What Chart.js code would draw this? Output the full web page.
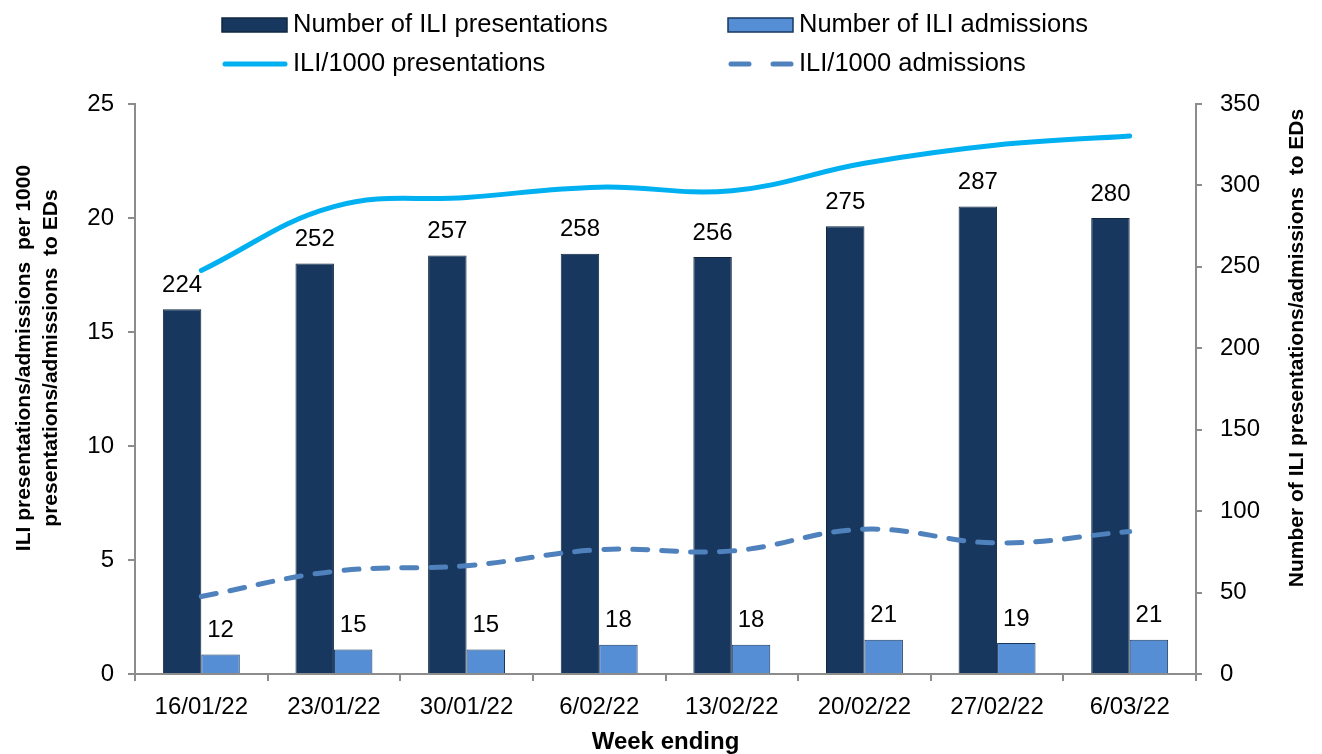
<!DOCTYPE html>
<html>
<head>
<meta charset="utf-8">
<script src="https://cdn.jsdelivr.net/npm/chart.js@4"></script>
<style>
  html, body { margin: 0; padding: 0; background: #fff; }
  #wrap { width: 1322px; height: 754px; }
</style>
</head>
<body>
<div id="wrap"><canvas id="chart" width="1322" height="754"></canvas></div>
<script>
const weeks = ["16/01/22", "23/01/22", "30/01/22", "6/02/22", "13/02/22", "20/02/22", "27/02/22", "6/03/22"];
const iliPresentations = [224, 252, 257, 258, 256, 275, 287, 280];
const iliAdmissions = [12, 15, 15, 18, 18, 21, 19, 21];
const ratePresentations = [17.7, 20.5, 20.9, 21.35, 21.2, 22.4, 23.2, 23.6];
const rateAdmissions = [3.4, 4.5, 4.75, 5.45, 5.4, 6.35, 5.75, 6.25];

const FONT = '"Liberation Sans", Arial, sans-serif';
const AXIS_GREY = "#8c8c8c";

// bar value labels above each bar
const barLabels = {
  id: "barLabels",
  afterDatasetsDraw(chart) {
    const ctx = chart.ctx;
    ctx.save();
    ctx.font = "24px " + FONT;
    ctx.fillStyle = "#000";
    ctx.textAlign = "center";
    ctx.textBaseline = "middle";
    chart.data.datasets.forEach((ds, i) => {
      if (ds.type !== "bar") return;
      chart.getDatasetMeta(i).data.forEach((bar, j) => {
        ctx.fillText(ds.data[j], bar.x, bar.y - 24);
      });
    });
    ctx.restore();
  },
};

// two column legend at the top, like the Excel one
const gridLegend = {
  id: "gridLegend",
  afterDraw(chart) {
    const ctx = chart.ctx;
    const cols = [222, 728];
    const rows = [25, 64];
    ctx.save();
    ctx.font = "25.5px " + FONT;
    ctx.textBaseline = "middle";
    ctx.textAlign = "left";
    chart.data.datasets.forEach((ds, i) => {
      const x = cols[i % 2];
      const y = rows[Math.floor(i / 2)];
      if (ds.type === "bar") {
        ctx.fillStyle = ds.backgroundColor;
        ctx.fillRect(x, y - 7, 65, 14);
        ctx.strokeStyle = ds.borderColor;
        ctx.lineWidth = 1.5;
        ctx.strokeRect(x, y - 7, 65, 14);
      } else {
        ctx.strokeStyle = ds.borderColor;
        ctx.lineWidth = ds.borderWidth;
        ctx.lineCap = "round";
        ctx.setLineDash(ds.borderDash ? [18, 24] : []);
        ctx.beginPath();
        ctx.moveTo(x + 3, y);
        ctx.lineTo(x + 63, y);
        ctx.stroke();
        ctx.setLineDash([]);
      }
      ctx.fillStyle = "#000";
      ctx.fillText(ds.label, x + 71, y);
    });
    ctx.restore();
  },
};

// rotated axis titles, both reading bottom to top
const axisTitles = {
  id: "axisTitles",
  afterDraw(chart) {
    const ctx = chart.ctx;
    ctx.save();
    ctx.font = "bold 21px " + FONT;
    ctx.fillStyle = "#000";
    ctx.textAlign = "center";
    ctx.textBaseline = "middle";
    const draw = (text, x, y) => {
      ctx.save();
      ctx.translate(x, y);
      ctx.rotate(-Math.PI / 2);
      ctx.fillText(text, 0, 0);
      ctx.restore();
    };
    draw("ILI presentations/admissions  per 1000", 24, 358);
    draw("presentations/admissions  to EDs", 51, 358);
    draw("Number of ILI presentations/admissions  to EDs", 1297, 348);
    ctx.restore();
  },
};

new Chart(document.getElementById("chart"), {
  data: {
    labels: weeks,
    datasets: [
      {
        type: "bar",
        label: "Number of ILI presentations",
        data: iliPresentations,
        yAxisID: "y1",
        backgroundColor: "#17375E",
        borderColor: "#10273f",
        borderWidth: 1,
        order: 2,
      },
      {
        type: "bar",
        label: "Number of ILI admissions",
        data: iliAdmissions,
        yAxisID: "y1",
        backgroundColor: "#558ED5",
        borderColor: "#17375E",
        borderWidth: 1,
        order: 2,
      },
      {
        type: "line",
        label: "ILI/1000 presentations",
        data: ratePresentations,
        yAxisID: "y",
        borderColor: "#00B0F0",
        borderWidth: 5,
        tension: 0.4,
        pointRadius: 0,
        borderCapStyle: "round",
        fill: false,
        order: 1,
      },
      {
        type: "line",
        label: "ILI/1000 admissions",
        data: rateAdmissions,
        yAxisID: "y",
        borderColor: "#4F81BD",
        borderWidth: 5,
        borderDash: [15, 14],
        borderCapStyle: "round",
        tension: 0.4,
        pointRadius: 0,
        fill: false,
        order: 1,
      },
    ],
  },
  options: {
    responsive: false,
    animation: false,
    layout: { padding: { top: 104, left: 0, right: 0, bottom: 0 } },
    datasets: {
      bar: { categoryPercentage: 0.58, barPercentage: 1.0 },
    },
    plugins: {
      legend: { display: false },
      tooltip: { enabled: false },
    },
    scales: {
      x: {
        grid: {
          display: true,
          drawOnChartArea: false,
          tickLength: 7,
          color: AXIS_GREY,
          lineWidth: 2,
        },
        border: { display: true, color: AXIS_GREY, width: 2 },
        ticks: { color: "#000", font: { size: 24, family: FONT }, padding: 12, maxRotation: 0 },
        title: {
          display: true,
          text: "Week ending",
          color: "#000",
          font: { size: 24, weight: "bold", family: FONT, lineHeight: 1.0 },
          padding: { top: 0, bottom: 0 },
        },
        afterFit(scale) { scale.height = 80; },
      },
      y: {
        position: "left",
        min: 0,
        max: 25,
        ticks: { stepSize: 5, color: "#000", font: { size: 24, family: FONT }, padding: 14 },
        grid: { drawOnChartArea: false, tickLength: 7, color: AXIS_GREY, lineWidth: 2 },
        border: { display: true, color: AXIS_GREY, width: 2 },
        afterFit(scale) { scale.width = 135; },
      },
      y1: {
        position: "right",
        min: 0,
        max: 350,
        ticks: { stepSize: 50, color: "#000", font: { size: 24, family: FONT }, padding: 18 },
        grid: { drawOnChartArea: false, tickLength: 6, color: AXIS_GREY, lineWidth: 2 },
        border: { display: true, color: AXIS_GREY, width: 2 },
        afterFit(scale) { scale.width = 126; },
      },
    },
  },
  plugins: [barLabels, gridLegend, axisTitles],
});
</script>
</body>
</html>
